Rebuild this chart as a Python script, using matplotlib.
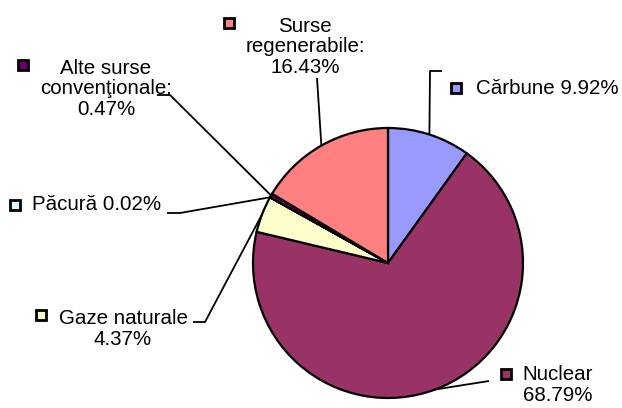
import numpy as np
import matplotlib
matplotlib.use("Agg")
import matplotlib.pyplot as plt
from matplotlib.patches import Rectangle

plt.rcParams['font.family'] = ['Liberation Sans', 'DejaVu Sans']

# date
categorii = ['Cărbune', 'Nuclear', 'Gaze naturale', 'Păcură',
             'Alte surse convenţionale', 'Surse regenerabile']
procente = [9.92, 68.79, 4.37, 0.02, 0.47, 16.43]
culori = ['#9999FF', '#993366', '#FFFFCC', '#CCFFFF', '#660066', '#FF8080']
etichete = ['Cărbune 9.92%', 'Nuclear\n68.79%', 'Gaze naturale\n4.37%',
            'Păcură 0.02%', 'Alte surse\nconvenţionale:\n0.47%',
            'Surse\nregenerabile:\n16.43%']

W, H = 622, 408
cx, cy, R = 388, 263, 135


def px(x, y):
    # coordonate in pixeli (y in jos) -> coordonate axa
    return x, H - y


fig = plt.figure(figsize=(W / 100, H / 100), dpi=100)
ax = fig.add_axes([0, 0, 1, 1])

wedges, _ = ax.pie(procente, colors=culori, startangle=90, counterclock=False,
                   center=px(cx, cy), radius=R, frame=True,
                   wedgeprops=dict(edgecolor='black', linewidth=1.6))
ax.set_xlim(0, W)
ax.set_ylim(0, H)
ax.set_aspect('equal')
ax.axis('off')

# pozitii etichete: (text x, text y, aliniere, patrat x, patrat y)
pozitii = [
    (476, 88, 'left', 456, 88),
    (558, 385, 'center', 506, 374),
    (123, 329, 'center', 41, 315),
    (32, 205, 'left', 15, 205),
    (106, 89, 'center', 23, 65),
    (305, 47, 'center', 229, 23),
]
# linii de legatura: puncte dupa marginea feliei
ghidaje = [
    [(430, 71), (442, 71)],
    [(489, 381)],
    [(205, 322), (193, 322)],
    [(180, 213), (167, 213)],
    [(170, 95), (157, 95)],
    [(317, 78)],
]

cum = np.cumsum([0] + procente)
for i, (w, lab) in enumerate(zip(wedges, etichete)):
    mid = 90 - (cum[i] + procente[i] / 2) * 3.6
    sx = cx + R * np.cos(np.radians(mid))
    sy = cy - R * np.sin(np.radians(mid))
    pts = [(sx, sy)] + ghidaje[i]
    xs = [p[0] for p in pts]
    ys = [H - p[1] for p in pts]
    ax.plot(xs, ys, color='black', lw=1.3, zorder=0.5, solid_capstyle='butt')

    tx, ty, ha, qx, qy = pozitii[i]
    ax.text(*px(tx, ty), lab, ha=ha, va='center', fontsize=14.8,
            linespacing=1.1, color='black')
    ax.add_patch(Rectangle(px(qx - 5, qy + 5), 10, 10, facecolor=culori[i],
                           edgecolor='black', linewidth=2.0, zorder=3))

fig.savefig('out.png', dpi=100)
